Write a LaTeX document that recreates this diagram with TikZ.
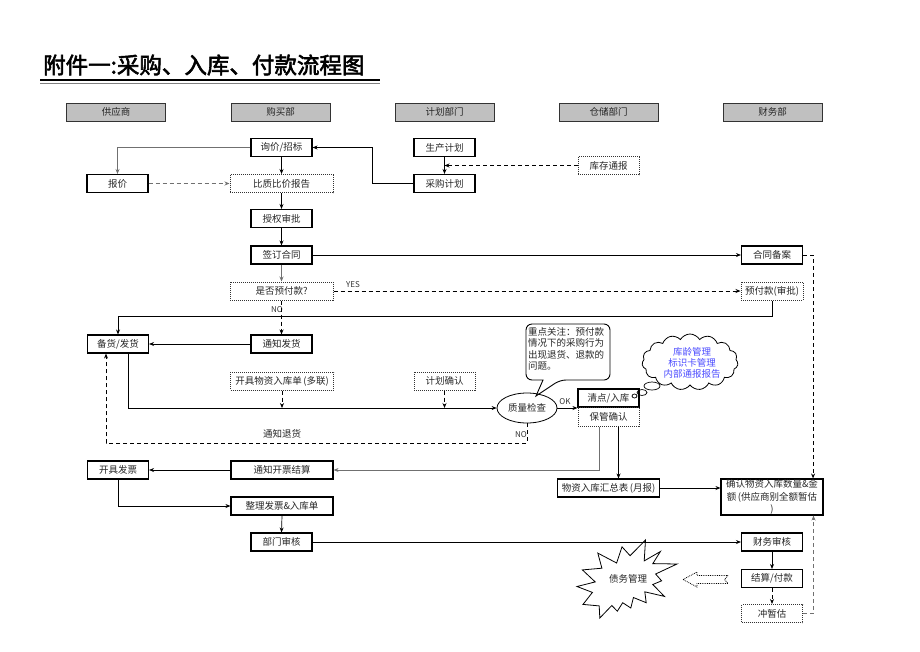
\documentclass[tikz,border=0pt]{standalone}
\usepackage{fontspec}
\setmainfont{Noto Sans CJK SC}
\newfontfamily\titlefont[FakeBold=2.5]{Noto Sans CJK SC}
\usetikzlibrary{shapes.geometric,shapes.symbols,arrows.meta,calc}
\definecolor{hdrgray}{HTML}{C0C0C0}
\definecolor{cloudblue}{HTML}{4B4BFF}
\definecolor{lngray}{HTML}{707070}
\begin{document}
\begin{tikzpicture}[x=1pt,y=-1pt,
  every node/.style={font=\fontsize{9.5}{11}\selectfont, text=black!85, inner sep=0pt},
  arr/.style={-{Stealth[length=5pt,width=4pt]}, line width=0.7pt},
  dline/.style={dash pattern=on 4pt off 3pt, line width=0.8pt},
  box/.style={draw=black, line width=1.1pt, minimum width=61pt, minimum height=18pt},
  wbox/.style={box, minimum width=102pt},
  dbox/.style={draw=black!80, densely dotted, line width=1pt, minimum width=61pt, minimum height=18pt},
  wdbox/.style={dbox, minimum width=103pt},
  hdr/.style={draw=black!80, fill=hdrgray, line width=0.8pt, minimum width=99pt, minimum height=18pt},
  lbl/.style={font=\fontsize{8}{9}\selectfont, text=black!80}
]
\useasboundingbox (0,0) rectangle (920,651);

% title
\node[font=\titlefont\fontsize{22.5}{26}\selectfont, text=black, anchor=west] (title) at (43,65) {附件一:采购、入库、付款流程图};
\draw[line width=1.6pt] (40,80) -- (380,80);
\draw[line width=0.5pt, gray] (40,83.5) -- (380,83.5);

% headers
\node[hdr] (h1) at (116,112) {供应商};
\node[hdr] (h2) at (280.5,112) {购买部};
\node[hdr] (h3) at (444.5,112) {计划部门};
\node[hdr] (h4) at (608.5,112) {仓储部门};
\node[hdr] (h5) at (772.5,112) {财务部};

% nodes
\node[box] (xunjia) at (281.5,147.5) {询价/招标};
\node[box] (shengchan) at (444.5,147.5) {生产计划};
\node[box] (baojia) at (117.5,183.5) {报价};
\node[wdbox] (bizhi) at (281.5,183.5) {比质比价报告};
\node[box] (caigou) at (444.5,183.5) {采购计划};
\node[dbox] (kucun) at (608.5,165.5) {库存通报};
\node[box] (shouquan) at (281.5,218.5) {授权审批};
\node[box] (qianding) at (281.5,255) {签订合同};
\node[box] (hetong) at (772,255) {合同备案};
\node[wdbox] (shifou) at (281.5,291) {是否预付款?};
\node[dbox, minimum width=62pt] (yufu) at (772,291) {预付款(审批)};
\node[box] (beihuo) at (118,344) {备货/发货};
\node[box] (tongzhifh) at (281.5,344) {通知发货};
\node[wdbox] (kaiju) at (282,381) {开具物资入库单\,(多联)};
\node[dbox] (jihua) at (444.5,381) {计划确认};
\node[ellipse, draw=black, line width=0.8pt, minimum width=60pt, minimum height=30pt] (zl) at (527,408) {质量检查};
\node[box, minimum height=18pt] (qingdian) at (608.5,398) {清点/入库};
\node[dbox, minimum height=19pt] (baoguan) at (608.5,416.5) {保管确认};
\node[box] (kaijufp) at (118,470) {开具发票};
\node[wbox] (tongzhikp) at (282,470) {通知开票结算};
\node[wbox] (huizong) at (608.5,488) {物资入库汇总表\,(月报)};
\node[box, minimum width=102pt, minimum height=36pt, align=center, font=\fontsize{9.5}{12.5}\selectfont] (queren) at (772,497) {确认物资入库数量\&金\\额\,(供应商别全额暂估\\)};
\node[wbox] (zhengli) at (282,506) {整理发票\&入库单};
\node[box] (bumen) at (281.5,542) {部门审核};
\node[box] (caiwu) at (772,542) {财务审核};
\node[box] (jiesuan) at (772,578.5) {结算/付款};
\node[dbox] (chongzan) at (772,613.5) {冲暂估};

% callout
\draw[line width=0.9pt, rounded corners=6pt] (543,380) -- (526,380) -- (526,324) -- (610,324) -- (610,380) -- (560,380) [sharp corners] -- (536,396) -- cycle;
\node[align=left, text width=82pt, font=\fontsize{9.5}{11.3}\selectfont] (note) at (569,349) {重点关注：预付款\\情况下的采购行为\\出现退货、退款的\\问题。};

% cloud
\node[cloud, cloud puffs=15, cloud puff arc=120, draw=black, line width=0.8pt, minimum width=96pt, minimum height=56pt, aspect=1.8] (cloud) at (690,362) {};
\node[align=center, text=cloudblue, font=\fontsize{9.5}{10.7}\selectfont] (cloudtxt) at (692,363) {库龄管理\\标识卡管理\\内部通报报告};
\node[ellipse, draw=black, line width=0.7pt, minimum width=16pt, minimum height=8pt] (b1) at (652,386) {};
\node[ellipse, draw=black, line width=0.7pt, minimum width=10pt, minimum height=6pt] (b2) at (642,392.5) {};
\node[ellipse, draw=black, line width=0.7pt, minimum width=5pt, minimum height=4pt] (b3) at (634.5,396) {};

% explosion
\draw[line width=0.8pt] (630.1,555.7) -- (622.0,546.8) -- (616.6,563.0) -- (597.8,553.1) -- (601.9,568.2) -- (582.4,569.9) -- (595.2,581.9) -- (577,586.5) -- (592.4,592.4) -- (583.0,604.4) -- (599.2,605.9) -- (599.8,618) -- (611.8,605.5) -- (617.3,611.2) -- (622.7,602.7) -- (630.8,608.0) -- (633.4,597.5) -- (646.2,602.7) -- (644.8,591.8) -- (664.4,596.4) -- (652.8,584.5) -- (661.6,580.8) -- (655.6,574.0) -- (677,564.0) -- (652.8,563.6) -- (660.4,551.5) -- (644.2,560.9) -- (645.5,540) -- cycle;
\node (zhaiwu) at (628,579) {债务管理};
% hollow arrow
\draw[densely dotted, line width=0.8pt] (683,579.5) -- (697,572) -- (697,575.5) -- (728,575.5) -- (724.5,579.5) -- (728,583.5) -- (697,583.5) -- (697,587) -- cycle;

% labels
\node[lbl] (lyes) at (353,285) {YES};
\node[lbl] (lno1) at (277,310) {NO};
\node[lbl] (lok) at (565,402) {OK};
\node[lbl] (lno2) at (521,435) {NO};
\node (ltui) at (282,434) {通知退货};

% connectors
\draw[arr, lngray] (xunjia.west) -| (baojia.north);
\draw[arr] (xunjia.south) -- (bizhi.north);
\draw[arr, dline, lngray] (baojia.east) -- (bizhi.west);
\draw[arr] (bizhi.south) -- (shouquan.north);
\draw[arr] (caigou.west) -- ++(-41,0) |- (xunjia.east);
\draw[arr] (shengchan.south) -- (caigou.north);
\draw[arr, dline] (kucun.west) -- (kucun.west -| shengchan.south);
\draw[arr] (shouquan.south) -- (qianding.north);
\draw[arr] (qianding.east) -- (hetong.west);
\draw[arr, lngray] (qianding.south) -- (shifou.north);
\draw[arr, dline] (shifou.east) -- (yufu.west);
\draw[arr, dline] (shifou.south) -- (tongzhifh.north);
\draw[arr] (yufu.south) -- ++(0,16) -| (beihuo.north);
\draw[arr] (tongzhifh.west) -- (beihuo.east);
\draw[arr, dline] (hetong.east) -- ++(10,0) coordinate (hc) -- (hc |- queren.north);
\draw[arr] ([xshift=10pt]beihuo.south) |- (zl.west);
\draw[arr, dline] (kaiju.south) -- (kaiju.south |- zl.west);
\draw[arr, dline] (jihua.south) -- (jihua.south |- zl.west);
\draw[arr] (zl.east) -- (zl.east -| qingdian.west);
\draw[arr, dline] (zl.south) -- ++(0,20) -| ([xshift=-12pt]beihuo.south);
\draw[arr, lngray] ([xshift=-9.5pt]baoguan.south) |- (tongzhikp.east);
\draw[arr] ([xshift=10pt]baoguan.south) -- ([xshift=10pt]huizong.north);
\draw[arr] (tongzhikp.west) -- (kaijufp.east);
\draw[arr] (kaijufp.south) |- (zhengli.west);
\draw[arr] (zhengli.south) -- (bumen.north);
\draw[arr] (bumen.east) -- (caiwu.west);
\draw[arr] (huizong.east) -- (huizong.east -| queren.west);
\draw[arr] (caiwu.south) -- (jiesuan.north);
\draw[arr, dline] (jiesuan.south) -- (chongzan.north);
\draw[arr, dline, lngray] (chongzan.east) -- ++(10.5,0) coordinate (cz) -- (cz |- queren.south);
\end{tikzpicture}
\end{document}
